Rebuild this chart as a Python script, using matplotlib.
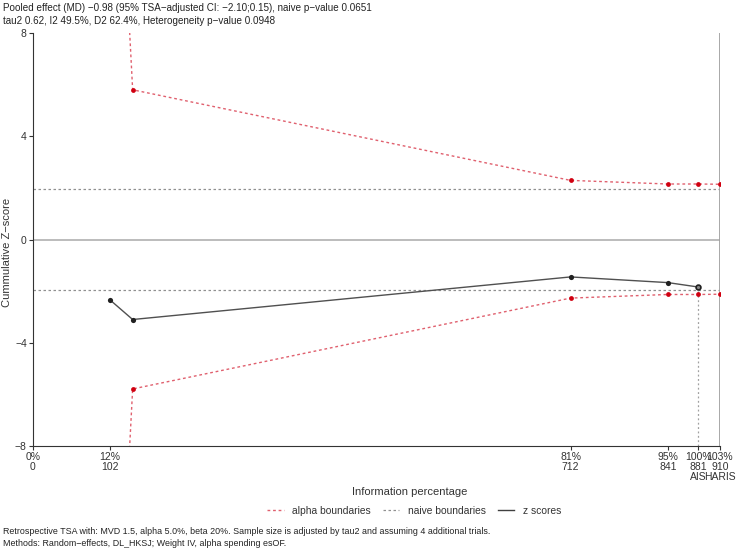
import numpy as np
import matplotlib
matplotlib.use('Agg')
import matplotlib.pyplot as plt

plt.rcParams['font.family'] = ['Liberation Sans', 'DejaVu Sans']

# cumulative sample sizes and z-scores
z_n = [102, 132, 712, 841, 881]
z_scores = [-2.34, -3.10, -1.45, -1.67, -1.84]

# alpha spending boundaries (esOF)
alpha_n = [102, 132, 712, 841, 881, 910]
alpha_upper = [22.6, 5.80, 2.29, 2.15, 2.15, 2.14]
alpha_lower = [-22.6, -5.79, -2.27, -2.13, -2.13, -2.12]

naive_z = 1.96
ais_n = 881
haris_n = 910

tick_n = [0, 102, 712, 841, 881, 910]
tick_pct = ['0%', '12%', '81%', '95%', '100%', '103%']
tick_extra = ['', '', '', '', 'AIS', 'HARIS']

header = ["Pooled effect (MD) \u22120.98 (95% TSA\u2212adjusted CI: \u22122.10;0.15), naive p\u2212value 0.0651",
          "tau2 0.62, I2 49.5%, D2 62.4%, Heterogeneity p\u2212value 0.0948"]
footer = ["Retrospective TSA with: MVD 1.5, alpha 5.0%, beta 20%. Sample size is adjusted by tau2 and assuming 4 additional trials.",
          "Methods: Random\u2212effects, DL_HKSJ; Weight IV, alpha spending esOF."]

fig = plt.figure(figsize=(7.5, 5.53), dpi=100)
ax = fig.add_axes([33 / 750, 1 - 446 / 553, (720 - 33) / 750, (446 - 33) / 553])

red_line = '#e0606e'
red_pt = '#d00010'

# reference lines
ax.axhline(0, color='#b0b0b0', lw=1.2, zorder=1)
ax.axhline(naive_z, color='#909090', lw=0.9, ls=(0, (2, 2)), zorder=1)
ax.axhline(-naive_z, color='#909090', lw=0.9, ls=(0, (2, 2)), zorder=1)
ax.axvline(haris_n, color='#a0a0a0', lw=2, zorder=1)
ax.vlines(ais_n, -8, z_scores[-1], color='#a0a0a0', lw=0.9, ls=(0, (1.5, 2)), zorder=1)

# alpha boundaries
for bound in (alpha_upper, alpha_lower):
    ax.plot(alpha_n, bound, color=red_line, lw=1, ls=(0, (2, 2)), zorder=2)
    ax.scatter(alpha_n[1:], bound[1:], s=12, color=red_pt, zorder=3, linewidths=0)

# z-scores
ax.plot(z_n, z_scores, color='#505050', lw=1, zorder=4)
ax.scatter(z_n[:-1], z_scores[:-1], s=14, color='#202020', zorder=5, linewidths=0)
ax.scatter(z_n[-1:], z_scores[-1:], s=12, facecolor='#888888', edgecolor='#202020', linewidths=1.2, zorder=5)

ax.set_xlim(0, 910)
ax.set_ylim(-8, 8)
ax.set_yticks([-8, -4, 0, 4, 8])
ax.set_yticklabels(['\u22128', '\u22124', '0', '4', '8'])
ax.set_xticks(tick_n)
labels = []
for n, p, e in zip(tick_n, tick_pct, tick_extra):
    labels.append(f"{p}\n{n}" + (f"\n{e}" if e else ""))
ax.set_xticklabels(labels, va='top', linespacing=1.0)

for s in ('top', 'right'):
    ax.spines[s].set_visible(False)
ax.spines['left'].set_color('#333333')
ax.spines['bottom'].set_color('#333333')
ax.tick_params(axis='both', labelsize=7.5, length=3, width=0.8, pad=1.5, colors='#333333')
ax.tick_params(axis='x', pad=1)

ax.set_ylabel('Cummulative Z\u2212score', fontsize=8, color='#333333')
ax.yaxis.set_label_coords((12 - 33) / 687, (446 - 252) / 413)
fig.text(410 / 750, 1 - 492 / 553, 'Information percentage', ha='center', va='center',
         fontsize=8, color='#333333')

handles = [
    plt.Line2D([], [], color=red_line, lw=1, ls=(0, (2, 2))),
    plt.Line2D([], [], color='#909090', lw=0.9, ls=(0, (2, 2))),
    plt.Line2D([], [], color='#404040', lw=1),
]
fig.legend(handles, ['alpha boundaries', 'naive boundaries', 'z scores'], ncol=3,
           loc='center', bbox_to_anchor=(414 / 750, 1 - 511 / 553), frameon=False,
           fontsize=7.4, handlelength=1.6, columnspacing=1.2, handletextpad=0.8,
           labelcolor='#333333')

for y, line in zip((8, 21), header):
    fig.text(3 / 750, 1 - y / 553, line, ha='left', va='center', fontsize=7.1, color='#222222')
for y, line in zip((531, 543), footer):
    fig.text(3 / 750, 1 - y / 553, line, ha='left', va='center', fontsize=6.4, color='#222222')

fig.savefig('out.png', dpi=100)
